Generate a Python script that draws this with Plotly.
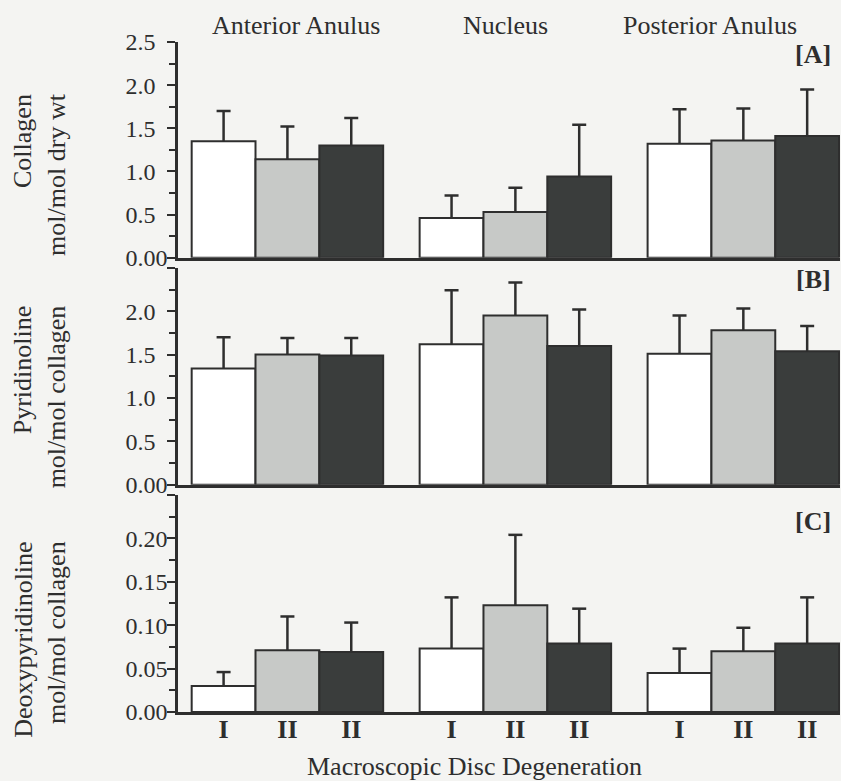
import plotly.graph_objects as go

# ---------------- data ----------------
regions = ["Anterior Anulus", "Nucleus", "Posterior Anulus"]
grade_labels = ["I", "II", "II"]
panel_tags = ["[A]", "[B]", "[C]"]

collagen_g1 = [1.35, 0.46, 1.32]
collagen_g1_sd = [0.35, 0.26, 0.40]
collagen_g2 = [1.14, 0.53, 1.36]
collagen_g2_sd = [0.38, 0.28, 0.37]
collagen_g3 = [1.30, 0.94, 1.41]
collagen_g3_sd = [0.32, 0.60, 0.54]

pyr_g1 = [1.34, 1.62, 1.51]
pyr_g1_sd = [0.36, 0.62, 0.44]
pyr_g2 = [1.50, 1.95, 1.78]
pyr_g2_sd = [0.19, 0.38, 0.25]
pyr_g3 = [1.49, 1.60, 1.54]
pyr_g3_sd = [0.20, 0.42, 0.29]

dpyr_g1 = [0.030, 0.073, 0.045]
dpyr_g1_sd = [0.016, 0.059, 0.028]
dpyr_g2 = [0.071, 0.123, 0.070]
dpyr_g2_sd = [0.039, 0.081, 0.027]
dpyr_g3 = [0.069, 0.079, 0.079]
dpyr_g3_sd = [0.034, 0.040, 0.053]

collagen_ticks = [0, 0.5, 1.0, 1.5, 2.0, 2.5]
collagen_ticktext = ["0.00", "0.5", "1.0", "1.5", "2.0", "2.5"]
pyr_ticks = [0, 0.5, 1.0, 1.5, 2.0, 2.5]
pyr_ticktext = ["0.00", "0.5", "1.0", "1.5", "2.0", ""]
dpyr_ticks = [0, 0.05, 0.10, 0.15, 0.20, 0.25]
dpyr_ticktext = ["0.00", "0.05", "0.10", "0.15", "0.20", ""]

ytitles = ["Collagen<br>mol/mol dry wt",
           "Pyridinoline<br>mol/mol collagen",
           "Deoxypyridinoline<br>mol/mol collagen"]
xtitle = "Macroscopic Disc Degeneration"

# ---------------- style ----------------
FONT = "Liberation Serif, Times New Roman, serif"
INK = "#2e2e2e"
BG = "#f4f4f2"
fills = ["#ffffff", "#c7c9c7", "#3a3d3c"]
bar_w = 0.28
offsets = [-0.42, -0.14, 0.14]

panels = [
    ([collagen_g1, collagen_g2, collagen_g3], [collagen_g1_sd, collagen_g2_sd, collagen_g3_sd],
     collagen_ticks, collagen_ticktext, [0, 2.5], 0.25),
    ([pyr_g1, pyr_g2, pyr_g3], [pyr_g1_sd, pyr_g2_sd, pyr_g3_sd],
     pyr_ticks, pyr_ticktext, [0, 2.5], 0.25),
    ([dpyr_g1, dpyr_g2, dpyr_g3], [dpyr_g1_sd, dpyr_g2_sd, dpyr_g3_sd],
     dpyr_ticks, dpyr_ticktext, [0, 0.25], 0.025),
]
domains = [[0.678, 1.0], [0.339, 0.663], [0.0, 0.324]]

fig = go.Figure()
xpos = list(range(len(regions)))

def pad(lbls):
    w = max(len(t) for t in lbls)
    return [t + "\u00a0\u00a0" * (w - len(t)) if t else t for t in lbls]

layout = {}
for p, (means, sds, tv, tt, rng, mdt) in enumerate(panels):
    xa = "x" if p == 0 else f"x{p+1}"
    ya = "y" if p == 0 else f"y{p+1}"
    for s in range(3):
        fig.add_trace(go.Bar(
            x=xpos, y=means[s], width=bar_w, offset=offsets[s],
            xaxis=xa, yaxis=ya,
            marker=dict(color=fills[s], line=dict(color=INK, width=2)),
            showlegend=False, hoverinfo="y",
        ))
    # upward-only error bars: stem from bar top to mean+sd, cap drawn as marker
    for s in range(3):
        cx = [g + offsets[s] + bar_w / 2 for g in xpos]
        tops = [m + d for m, d in zip(means[s], sds[s])]
        fig.add_trace(go.Scatter(
            x=cx, y=tops, xaxis=xa, yaxis=ya, mode="markers",
            marker=dict(symbol="line-ew", size=10, color=INK,
                        line=dict(color=INK, width=2.5)),
            error_y=dict(type="data", symmetric=False, array=[0] * len(tops),
                         arrayminus=sds[s], color=INK, thickness=2.5, width=0),
            showlegend=False, hoverinfo="skip",
        ))
    xkey = "xaxis" if p == 0 else f"xaxis{p+1}"
    ykey = "yaxis" if p == 0 else f"yaxis{p+1}"
    bottom = (p == 2)
    tickx = [g + o + bar_w / 2 for g in xpos for o in offsets]
    layout[xkey] = dict(
        domain=[0, 1], anchor=ya, range=[-0.48, 2.424],
        showline=True, linecolor=INK, linewidth=2.5,
        showgrid=False, zeroline=False,
        tickmode="array", tickvals=tickx if bottom else [],
        ticktext=grade_labels * len(xpos) if bottom else [],
        ticks="", showticklabels=bottom, ticklabelstandoff=-8,
        tickfont=dict(family=FONT, size=26, color=INK, weight="bold"),
    )
    layout[ykey] = dict(
        domain=domains[p], anchor=xa, range=rng,
        showline=True, linecolor=INK, linewidth=2.5,
        showgrid=False, zeroline=False,
        tickmode="array", tickvals=tv, ticktext=pad(tt),
        ticks="outside", ticklen=8, tickwidth=2, tickcolor=INK,
        ticklabelstandoff=-5,
        minor=dict(dtick=mdt, tick0=0, ticks="outside", ticklen=6,
                   tickwidth=2, tickcolor=INK),
        tickfont=dict(family=FONT, size=24, color=INK),
    )

annotations = []
# y-axis titles (rotated, bottom-aligned)
ytitle_bottoms = [0.678, 0.331, -0.042]
for p in range(3):
    annotations.append(dict(
        text=ytitles[p], xref="paper", yref="paper",
        x=-0.209, y=ytitle_bottoms[p], xanchor="center", yanchor="bottom",
        textangle=-90, align="right", showarrow=False,
        font=dict(family=FONT, size=26, color=INK),
    ))
# region headers
header_x = [0.178, 0.494, 0.804]
for i, r in enumerate(regions):
    annotations.append(dict(
        text=r, xref="paper", yref="paper", x=header_x[i], y=1.025,
        xanchor="center", yanchor="middle", showarrow=False,
        font=dict(family=FONT, size=26, color=INK),
    ))
# panel tags
tag_y = [0.982, 0.645, 0.285]
for p in range(3):
    annotations.append(dict(
        text=panel_tags[p], xref="paper", yref="paper", x=0.9894, y=tag_y[p],
        xanchor="right", yanchor="middle", showarrow=False,
        font=dict(family=FONT, size=26, color=INK, weight="bold"),
    ))
annotations.append(dict(
    text=xtitle, xref="paper", yref="paper", x=0.4486, y=-0.106,
    xanchor="center", yanchor="bottom", showarrow=False,
    font=dict(family=FONT, size=26, color=INK),
))

fig.update_layout(
    width=841, height=781,
    margin=dict(l=178, r=1, t=42, b=69),
    paper_bgcolor=BG, plot_bgcolor=BG,
    barmode="overlay",
    annotations=annotations,
    **layout,
)

fig.write_html(
    "out.html",
    config={"displayModeBar": False},
    post_script="document.body.style.margin='0';document.body.style.overflow='hidden';",
)
